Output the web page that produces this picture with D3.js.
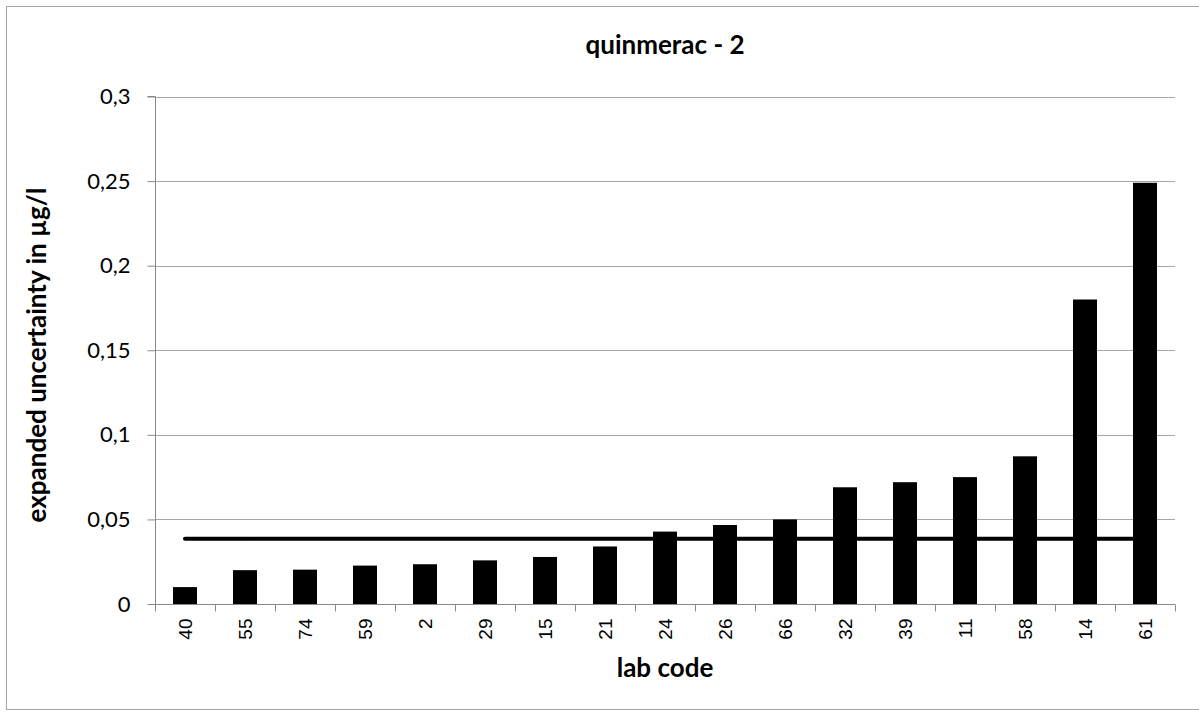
<!DOCTYPE html>
<html>
<head>
<meta charset="utf-8">
<script src="https://cdn.jsdelivr.net/npm/d3@7"></script>
<style>
  html, body { margin: 0; padding: 0; background: #fff; }
  svg { display: block; }
</style>
</head>
<body>
<svg id="chart" width="1199" height="716"></svg>
<script>
// Lab codes in plotted order and their expanded uncertainties (µg/l)
const labCodes = ["40","55","74","59","2","29","15","21","24","26","66","32","39","11","58","14","61"];
const uncertainty = [0.010,0.020,0.0203,0.0227,0.0235,0.0258,0.0278,0.034,0.0428,0.0467,0.050,0.069,0.072,0.075,0.0873,0.180,0.249];
// Reference level drawn as a horizontal line across all labs
const referenceLevel = 0.0385;
const yTicks = [0, 0.05, 0.1, 0.15, 0.2, 0.25, 0.3];
const titleText = "quinmerac - 2";
const xTitle = "lab code";
const yTitle = "expanded uncertainty in µg/l";

const svg = d3.select("#chart");
const plot = { left: 155, right: 1175, top: 96.5, bottom: 604 };
const calibri = "Lato, 'Open Sans', sans-serif";

// Outer chart frame
svg.append("rect")
  .attr("x", 6.5).attr("y", 6.5)
  .attr("width", 1200).attr("height", 703)
  .attr("fill", "#fff").attr("stroke", "#a6a6a6").attr("stroke-width", 1);

const xBand = d3.scaleBand().domain(labCodes).range([plot.left, plot.right]);
const y = d3.scaleLinear().domain([0, 0.3]).range([plot.bottom, plot.top]);

// Horizontal gridlines
svg.append("g")
  .selectAll("line")
  .data(yTicks.filter(d => d > 0))
  .join("line")
  .attr("x1", plot.left).attr("x2", plot.right)
  .attr("y1", d => Math.round(y(d)) + 0.5).attr("y2", d => Math.round(y(d)) + 0.5)
  .attr("stroke", "#a6a6a6").attr("stroke-width", 1);

// Y axis
const yAxis = d3.axisLeft(y).tickValues(yTicks).tickSize(8).tickPadding(17)
  .tickFormat(d => String(d).replace(".", ","));
const gy = svg.append("g").attr("transform", `translate(${plot.left + 0.5},0)`).call(yAxis);
gy.select(".domain").attr("stroke", "#888").attr("d", `M-8,${plot.top}H0V${plot.bottom}`);
gy.selectAll(".tick line").attr("stroke", "#888");
gy.selectAll(".tick text").attr("font-family", calibri).attr("font-size", 22).attr("fill", "#000");

// Reference line (behind bars)
svg.append("line")
  .attr("x1", xBand(labCodes[0]) + xBand.bandwidth() / 2)
  .attr("x2", xBand(labCodes[labCodes.length - 1]) + xBand.bandwidth() / 2)
  .attr("y1", y(referenceLevel)).attr("y2", y(referenceLevel))
  .attr("stroke", "#000").attr("stroke-width", 4).attr("stroke-linecap", "round");

// Bars
svg.append("g")
  .selectAll("rect")
  .data(labCodes.map((c, i) => ({ code: c, value: uncertainty[i] })))
  .join("rect")
  .attr("x", d => xBand(d.code) + xBand.bandwidth() * 0.3)
  .attr("width", xBand.bandwidth() * 0.4)
  .attr("y", d => y(d.value))
  .attr("height", d => y(0) - y(d.value))
  .attr("fill", "#000");

// X axis with ticks on band boundaries
const gx = svg.append("g").attr("transform", `translate(0,${plot.bottom + 0.5})`);
gx.append("line").attr("x1", plot.left).attr("x2", plot.right).attr("stroke", "#888");
const boundaries = labCodes.map(c => xBand(c)).concat([plot.right]);
gx.selectAll("line.tk").data(boundaries).join("line").attr("class", "tk")
  .attr("x1", d => Math.round(d) + 0.5).attr("x2", d => Math.round(d) + 0.5)
  .attr("y1", 0).attr("y2", 7).attr("stroke", "#888");
gx.selectAll("text").data(labCodes).join("text")
  .attr("transform", d => `translate(${xBand(d) + xBand.bandwidth() / 2 + 7},14) rotate(-90)`)
  .attr("text-anchor", "end")
  .attr("font-family", "'Liberation Sans', Arial, sans-serif")
  .attr("font-size", 19).attr("fill", "#000")
  .text(d => d);

// Titles
svg.append("text")
  .attr("x", 665).attr("y", 54).attr("text-anchor", "middle")
  .attr("font-family", calibri).attr("font-weight", "bold").attr("font-size", 26)
  .text(titleText);
svg.append("text")
  .attr("x", 665).attr("y", 677).attr("text-anchor", "middle")
  .attr("font-family", calibri).attr("font-weight", "bold").attr("font-size", 26)
  .text(xTitle);
svg.append("text")
  .attr("transform", `translate(46,355) rotate(-90)`).attr("text-anchor", "middle")
  .attr("font-family", calibri).attr("font-weight", "bold").attr("font-size", 26)
  .text(yTitle);
</script>
</body>
</html>
